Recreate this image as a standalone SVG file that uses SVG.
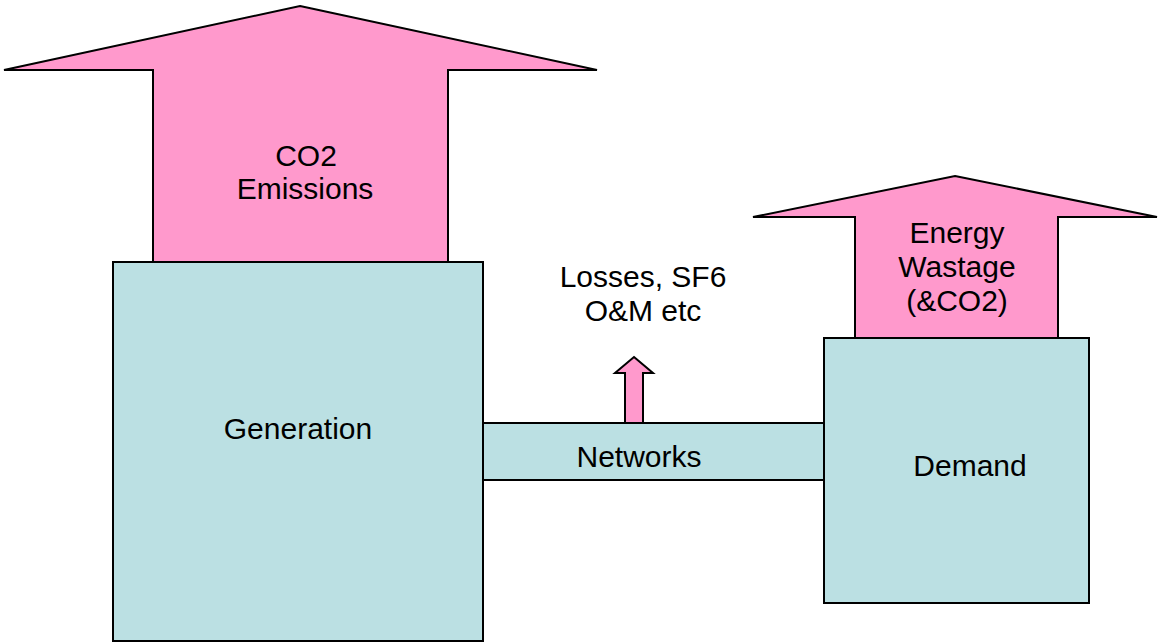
<svg xmlns="http://www.w3.org/2000/svg" width="1160" height="644" viewBox="0 0 1160 644">
<style>
.box{fill:#BBE0E3;stroke:#000;stroke-width:2}
.arr{fill:#FF99CC;stroke:#000;stroke-width:2;stroke-linejoin:miter}
text{font-family:"Liberation Sans",Arial,sans-serif;font-size:30px;fill:#000;text-anchor:middle}
</style>
<rect width="1160" height="644" fill="#fff"/>
<g id="co2-emissions">
<polygon class="arr" points="300,6 597,70 448,70 448,262 153,262 153,70 4,70"/>
<text x="306" y="166">CO2</text>
<text x="305" y="199">Emissions</text>
</g>
<g id="energy-wastage">
<polygon class="arr" points="955,176 1157,217 1058,217 1058,338 855,338 855,217 753,217"/>
<text x="957" y="243">Energy</text>
<text x="957" y="277">Wastage</text>
<text x="957" y="311">(&amp;CO2)</text>
</g>
<g id="networks">
<rect class="box" x="483" y="423" width="341" height="57"/>
<text x="639" y="467">Networks</text>
</g>
<g id="generation">
<rect class="box" x="113" y="262" width="370" height="379"/>
<text x="298" y="439">Generation</text>
</g>
<g id="demand">
<rect class="box" x="824" y="338" width="265" height="265"/>
<text x="970" y="476">Demand</text>
</g>
<g id="losses">
<polygon class="arr" points="634,357 653,373 643,373 643,423 625,423 625,373 615,373"/>
<text x="643" y="287">Losses, SF6</text>
<text x="643" y="321">O&amp;M etc</text>
</g>
<g id="connectors"></g>
</svg>
